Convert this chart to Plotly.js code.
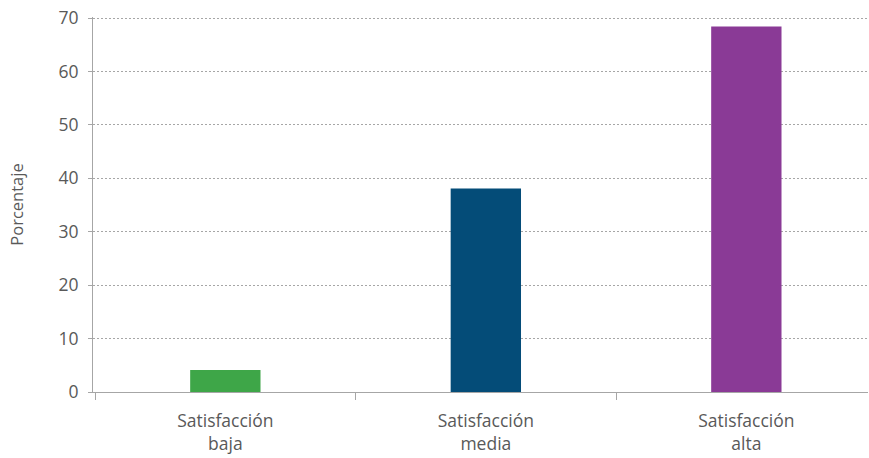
<!DOCTYPE html>
<html>
<head>
<meta charset="utf-8">
<script src="https://cdn.plot.ly/plotly-3.0.1.min.js"></script>
<style>html,body{margin:0;padding:0;background:#fff;}#chart{width:869px;height:458px;}</style>
</head>
<body>
<div id="chart"></div>
<script>
const categories = ["Satisfacción<br>baja", "Satisfacción<br>media", "Satisfacción<br>alta"];
const values = [4.1, 38.1, 68.4];
const barColors = ["#3ea648", "#044c78", "#8a3a96"];
const yTicks = [0, 10, 20, 30, 40, 50, 60, 70];

const trace = {
  type: "bar",
  x: categories,
  y: values,
  marker: {color: barColors},
  width: 0.27,
  hoverinfo: "x+y"
};

const layout = {
  width: 869,
  height: 458,
  margin: {l: 93, r: 1, t: 17, b: 66},
  paper_bgcolor: "#ffffff",
  plot_bgcolor: "#ffffff",
  font: {family: "Open Sans, Noto Sans, sans-serif", size: 17, color: "#595959"},
  showlegend: false,
  xaxis: {
    type: "category",
    range: [-0.508, 2.467],
    tickson: "boundaries",
    ticks: "outside",
    ticklen: 7,
    tickcolor: "#a6a6a6",
    showline: true,
    linecolor: "#a6a6a6",
    linewidth: 1,
    showgrid: false,
    tickfont: {size: 17.5, color: "#595959"},
    ticklabelstandoff: 13,
    automargin: false
  },
  yaxis: {
    range: [0, 70.2],
    tickvals: yTicks,
    ticks: "outside",
    ticklen: 4,
    tickcolor: "#a6a6a6",
    showline: true,
    linecolor: "#a6a6a6",
    linewidth: 1,
    showgrid: true,
    gridcolor: "#a6a6a6",
    griddash: "2px,2px",
    gridwidth: 1,
    zeroline: false,
    tickfont: {size: 17.5, color: "#595959"},
    ticklabelstandoff: 6,
    title: {text: "Porcentaje", font: {size: 16.5, color: "#595959"}, standoff: 30},
    automargin: false
  }
};

Plotly.newPlot("chart", [trace], layout, {displayModeBar: false, staticPlot: true});
</script>
</body>
</html>
